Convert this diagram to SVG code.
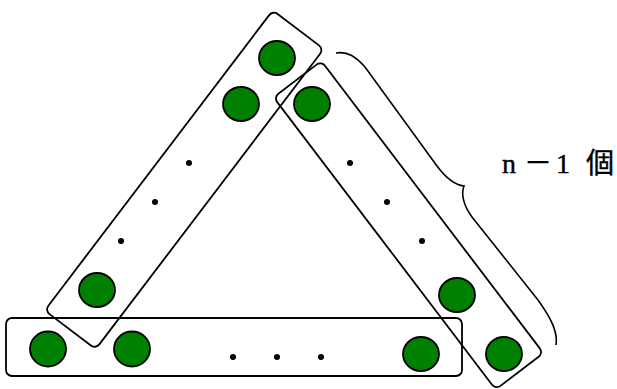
<svg xmlns="http://www.w3.org/2000/svg" width="617" height="389" viewBox="0 0 617 389">
<style>
.box{fill:none;stroke:#000;stroke-width:1.8}
.ball{fill:#008000;stroke:#000;stroke-width:1.8}
.dot{fill:#000}
.brace{fill:none;stroke:#000;stroke-width:1.6}
.lbl{font-family:"Liberation Serif","Noto Sans CJK JP",serif;font-size:28px;fill:#000;stroke:#000;stroke-width:0.4}
</style>
<rect width="617" height="389" fill="#fff"/>
<g id="group-left">
<ellipse class="ball" cx="277" cy="58" rx="18" ry="17"/>
<ellipse class="ball" cx="241" cy="104" rx="18" ry="17"/>
<ellipse class="ball" cx="97" cy="290" rx="18" ry="17"/>
<circle class="dot" cx="189" cy="163" r="3"/>
<circle class="dot" cx="155" cy="202" r="3"/>
<circle class="dot" cx="121" cy="241" r="3"/>
<rect class="box" x="-188.5" y="-32" width="377" height="64" rx="6" transform="translate(184.25,179.75) rotate(-52.77)"/>
</g>
<g id="group-right">
<ellipse class="ball" cx="312" cy="104" rx="18" ry="17"/>
<ellipse class="ball" cx="457" cy="295" rx="18" ry="17"/>
<ellipse class="ball" cx="504" cy="354" rx="18" ry="17"/>
<circle class="dot" cx="350" cy="163" r="3"/>
<circle class="dot" cx="387" cy="202" r="3"/>
<circle class="dot" cx="422" cy="241" r="3"/>
<rect class="box" x="-183.5" y="-30" width="367" height="60" rx="6" transform="translate(408.5,225.25) rotate(52.76)"/>
</g>
<g id="group-bottom">
<ellipse class="ball" cx="48" cy="349" rx="18" ry="17.5"/>
<ellipse class="ball" cx="132" cy="349" rx="18" ry="17.5"/>
<ellipse class="ball" cx="421" cy="354" rx="18" ry="17"/>
<circle class="dot" cx="233" cy="357" r="3"/>
<circle class="dot" cx="277" cy="357" r="3"/>
<circle class="dot" cx="321" cy="357" r="3"/>
<rect class="box" x="6" y="318" width="456" height="58" rx="6"/>
</g>
<g id="connectors">
<path class="brace" d="M336,53 C348,51 356,57 365,67 L437,166 C446,178 455,185 464,186 C461,193 463,205 472,217 L538,300 C551,318 558,332 556,345"/>
</g>
<g id="label">
<text class="lbl" x="502 524 556 586" y="173">n－1個</text>
</g>
</svg>
